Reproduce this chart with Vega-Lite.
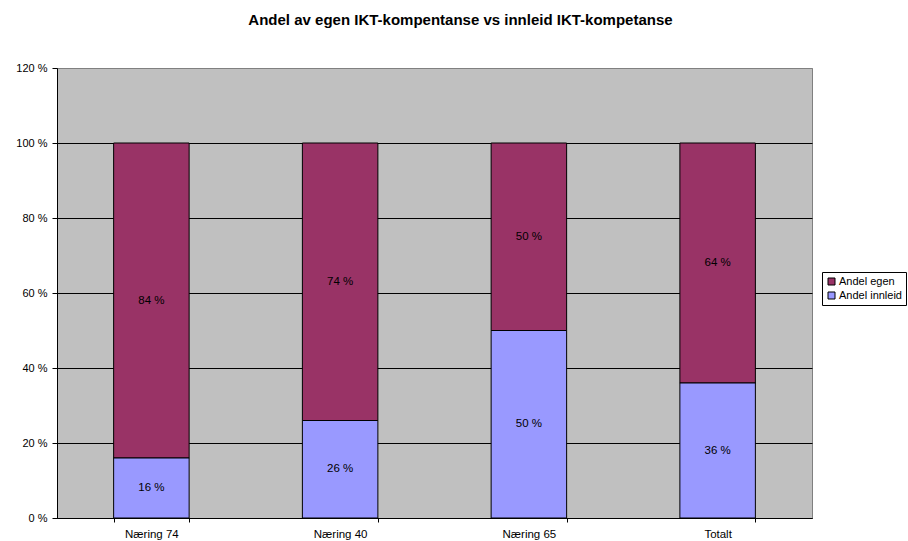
{
  "$schema": "https://vega.github.io/schema/vega-lite/v6.json",
  "autosize": "none",
  "width": 755,
  "height": 450,
  "padding": {"left": 57, "top": 68, "right": 96, "bottom": 23},
  "background": "white",
  "title": {
    "text": "Andel av egen IKT-kompentanse vs innleid IKT-kompetanse",
    "font": "Liberation Sans",
    "fontSize": 15,
    "fontWeight": "bold",
    "color": "black",
    "anchor": "middle",
    "dx": 26,
    "offset": 34
  },
  "config": {
    "view": {"fill": "#C0C0C0", "stroke": "#808080", "strokeWidth": 1},
    "font": "Liberation Sans"
  },
  "data": {
    "values": [
      {"kategori": "Næring 74", "serie": "Andel egen", "verdi": 84, "etikett": "84 %", "rekke": 2},
      {"kategori": "Næring 74", "serie": "Andel innleid", "verdi": 16, "etikett": "16 %", "rekke": 1},
      {"kategori": "Næring 40", "serie": "Andel egen", "verdi": 74, "etikett": "74 %", "rekke": 2},
      {"kategori": "Næring 40", "serie": "Andel innleid", "verdi": 26, "etikett": "26 %", "rekke": 1},
      {"kategori": "Næring 65", "serie": "Andel egen", "verdi": 50, "etikett": "50 %", "rekke": 2},
      {"kategori": "Næring 65", "serie": "Andel innleid", "verdi": 50, "etikett": "50 %", "rekke": 1},
      {"kategori": "Totalt", "serie": "Andel egen", "verdi": 64, "etikett": "64 %", "rekke": 2},
      {"kategori": "Totalt", "serie": "Andel innleid", "verdi": 36, "etikett": "36 %", "rekke": 1}
    ]
  },
  "encoding": {
    "x": {
      "field": "kategori",
      "type": "nominal",
      "sort": ["Næring 74", "Næring 40", "Næring 65", "Totalt"],
      "scale": {"paddingInner": 0.6, "paddingOuter": 0.3},
      "axis": {
        "title": null,
        "labelAngle": 0,
        "labelFont": "Liberation Sans",
        "labelFontSize": 11.5,
        "labelColor": "black",
        "labelPadding": 6,
        "tickBand": "extent",
        "tickColor": "black",
        "tickSize": 4,
        "domainColor": "black",
        "grid": false
      }
    }
  },
  "layer": [
    {
      "mark": {"type": "bar", "stroke": "black", "strokeWidth": 1},
      "encoding": {
        "y": {
          "field": "verdi",
          "type": "quantitative",
          "stack": "zero",
          "scale": {"domain": [0, 120], "nice": false},
          "axis": {
            "title": null,
            "values": [0, 20, 40, 60, 80, 100, 120],
            "labelExpr": "datum.value + ' %'",
            "labelFont": "Liberation Sans",
            "labelFontSize": 11,
            "labelColor": "black",
            "labelPadding": 5,
            "tickColor": "black",
            "tickSize": 5,
            "domainColor": "black",
            "grid": true,
            "gridColor": {"condition": {"test": "datum.value == 120", "value": "#808080"}, "value": "black"},
            "gridOpacity": 1,
            "gridWidth": 1
          }
        },
        "color": {
          "field": "serie",
          "type": "nominal",
          "scale": {"domain": ["Andel egen", "Andel innleid"], "range": ["#993366", "#9999FF"]},
          "legend": {
            "title": null,
            "orient": "none",
            "legendX": 765,
            "legendY": 204,
            "strokeColor": "black",
            "fillColor": "white",
            "padding": 4,
            "symbolType": "square",
            "symbolSize": 49,
            "symbolStrokeColor": "black",
            "symbolStrokeWidth": 1,
            "symbolOpacity": 1,
            "labelFont": "Liberation Sans",
            "labelFontSize": 11,
            "labelColor": "black",
            "labelOffset": 2,
            "rowPadding": 2
          }
        },
        "order": {"field": "rekke", "type": "quantitative"}
      }
    },
    {
      "transform": [
        {"stack": "verdi", "groupby": ["kategori"], "sort": [{"field": "rekke"}], "as": ["y0", "y1"]},
        {"fold": ["y0", "y1"], "as": ["kant", "pos"]},
        {"aggregate": [{"op": "mean", "field": "pos", "as": "midt"}], "groupby": ["kategori", "serie", "etikett"]}
      ],
      "mark": {"type": "text", "font": "Liberation Sans", "fontSize": 11.5, "color": "black", "baseline": "middle"},
      "encoding": {
        "y": {"field": "midt", "type": "quantitative"},
        "text": {"field": "etikett"}
      }
    }
  ]
}
